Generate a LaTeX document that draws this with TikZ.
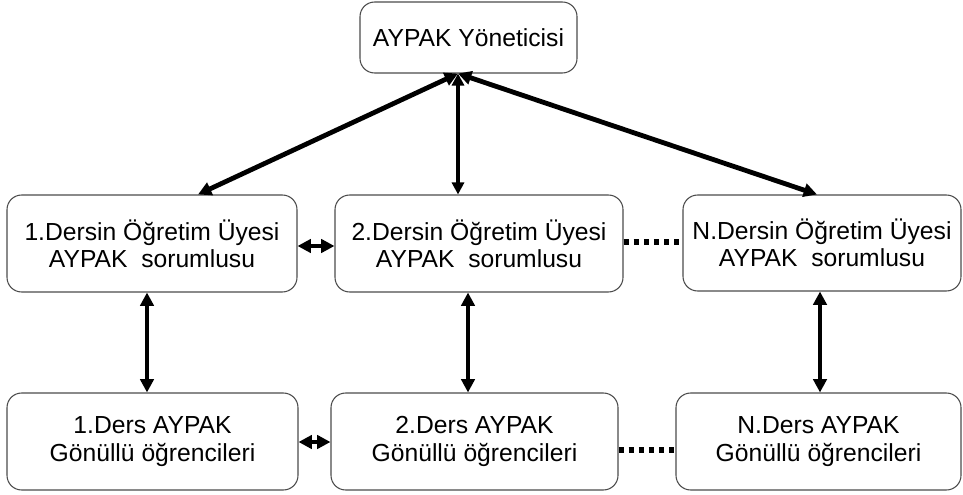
\documentclass[tikz,border=0pt]{standalone}
\usepackage{fontspec}
\setmainfont{Liberation Sans}
\usetikzlibrary{arrows.meta}
\begin{document}
\begin{tikzpicture}[x=0.75pt,y=-0.75pt,
  box/.style={draw=black!70, line width=0.8pt, rounded corners=11pt, fill=white,
    align=center, inner sep=0pt, font=\fontsize{18.5}{20.5}\selectfont},
  arr/.style={line width=3.6pt, {Triangle[length=10pt,width=10pt]}-{Triangle[length=10pt,width=10pt]}},
  thinarr/.style={line width=3pt, {Triangle[length=9pt,width=9pt]}-{Triangle[length=9pt,width=9pt]}},
  dotline/.style={line width=3.8pt, dash pattern=on 3.8pt off 3.8pt}]
\useasboundingbox (0,0) rectangle (963,495);
\node[box, minimum width=217*0.75pt, minimum height=71*0.75pt] (top) at (468.5,37.5) {AYPAK Yöneticisi};
\node[box, minimum width=290*0.75pt, minimum height=97*0.75pt] (a1) at (152,243.5) {1.Dersin Öğretim Üyesi\\AYPAK\ \ sorumlusu};
\node[box, minimum width=288*0.75pt, minimum height=97*0.75pt] (a2) at (479,243.5) {2.Dersin Öğretim Üyesi\\AYPAK\ \ sorumlusu};
\node[box, minimum width=278*0.75pt, minimum height=96*0.75pt] (a3) at (822,243) {N.Dersin Öğretim Üyesi\\AYPAK\ \ sorumlusu};
\node[box, minimum width=291*0.75pt, minimum height=97*0.75pt] (b1) at (152.5,441.5) {1.Ders AYPAK\\Gönüllü öğrencileri};
\node[box, minimum width=287*0.75pt, minimum height=97*0.75pt] (b2) at (474.5,441.5) {2.Ders AYPAK\\Gönüllü öğrencileri};
\node[box, minimum width=285*0.75pt, minimum height=97*0.75pt] (b3) at (818.5,441.5) {N.Ders AYPAK\\Gönüllü öğrencileri};
% coordinates for connector positions
\coordinate (t0) at (458,0);
\coordinate (v1) at (147,0);
\coordinate (v2) at (468,0);
\coordinate (v3) at (820,0);
\coordinate (d1) at (198,0);
\coordinate (d3) at (817,0);
\coordinate (h1) at (0,246);
\coordinate (h2) at (0,442);
\coordinate (p1) at (0,242);
\coordinate (p2) at (0,450);
% top arrows
\draw[arr] (top.south -| t0) -- (a1.north -| d1);
\draw[thinarr] (top.south -| t0) -- (a2.north -| t0);
\draw[arr] (top.south -| t0) -- (a3.north -| d3);
% row horizontal
\draw[arr] (a1.east |- h1) -- (a2.west |- h1);
\draw[dotline] (a2.east |- p1) -- (a3.west |- p1);
\draw[arr] (b1.east |- h2) -- (b2.west |- h2);
\draw[dotline] (b2.east |- p2) -- (b3.west |- p2);
% vertical
\draw[arr] (a1.south -| v1) -- (b1.north -| v1);
\draw[arr] (a2.south -| v2) -- (b2.north -| v2);
\draw[arr] (a3.south -| v3) -- (b3.north -| v3);
\end{tikzpicture}
\end{document}
